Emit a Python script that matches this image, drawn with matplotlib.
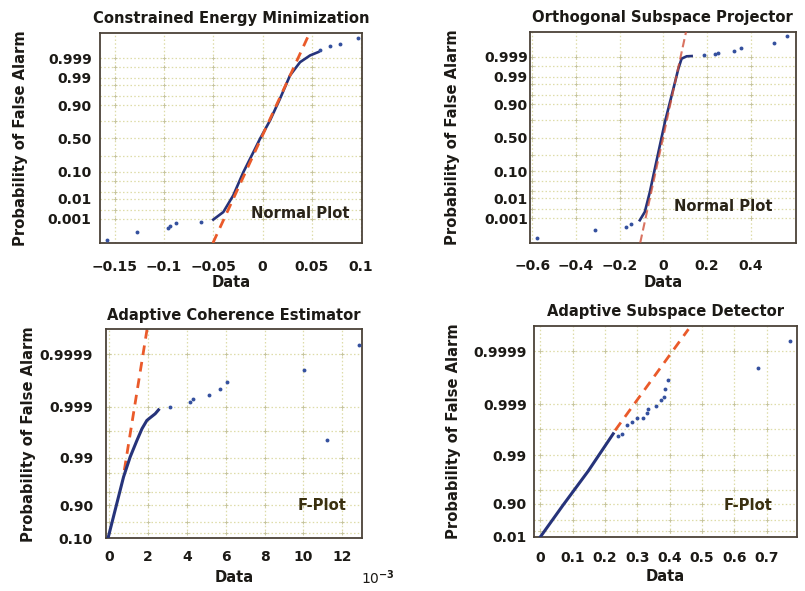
import numpy as np
import matplotlib
matplotlib.use("Agg")
import matplotlib.pyplot as plt

plt.rcParams["font.family"] = ["DejaVu Sans"]
plt.rcParams["font.weight"] = "bold"
plt.rcParams["axes.titleweight"] = "bold"
plt.rcParams["axes.labelweight"] = "bold"


# ---------------------------------------------------------------------------
# Data.  Normal plots use standard-normal quantiles on the y axis, F-plots use
# F(1, inf) quantiles; the tick labels show the matching probabilities.
# ---------------------------------------------------------------------------

# Constrained Energy Minimization
cem_curve_x = [-0.050, -0.0398, -0.0297, -0.0195, -0.0093, -0.0025, 0.0076,
               0.0178, 0.0279, 0.0381, 0.0483, 0.0567]
cem_curve_z = [-3.12, -2.83, -2.19, -1.30, -0.53, -0.01, 0.69, 1.53, 2.42,
               2.93, 3.19, 3.32]
cem_tail_x = [-0.1577, -0.1278, -0.0957, -0.0940, -0.0879, -0.0628,
              0.0584, 0.0686, 0.0788, 0.0974]
cem_tail_z = [-3.90, -3.58, -3.45, -3.38, -3.26, -3.22, 3.38, 3.55, 3.64, 3.86]
cem_fit_x = [-0.050, 0.0483]
cem_fit_z = [-3.99, 4.09]

# Orthogonal Subspace Projector
osp_curve_x = [-0.108, -0.085, -0.062, -0.039, -0.016, 0.007, 0.030, 0.053,
               0.068, 0.083, 0.106, 0.129]
osp_curve_z = [-3.16, -2.84, -2.08, -1.18, -0.29, 0.60, 1.36, 2.12, 2.63,
               3.02, 3.11, 3.12]
osp_tail_x = [-0.579, -0.314, -0.169, -0.146, 0.186, 0.236, 0.251, 0.323,
              0.354, 0.507, 0.565]
osp_tail_z = [-3.85, -3.54, -3.41, -3.32, 3.17, 3.21, 3.24, 3.33, 3.42,
              3.61, 3.87]
osp_fit_x = [-0.105, 0.103]
osp_fit_z = [-3.98, 4.03]

# Adaptive Coherence Estimator (data in units of 1e-3)
ace_curve_x = [-0.04, 0.22, 0.48, 0.74, 1.08, 1.43, 1.69, 1.94, 2.11, 2.37, 2.54]
ace_curve_q = [0.13, 1.77, 3.41, 5.05, 6.69, 8.06, 9.02, 9.70, 9.92, 10.25, 10.57]
ace_tail_x = [3.14, 4.18, 4.31, 5.12, 5.72, 6.07, 10.02, 11.22, 12.85]
ace_tail_q = [10.79, 11.20, 11.48, 11.83, 12.30, 12.84, 13.85, 8.06, 15.93]
ace_fit_x = [0.78, 1.95]
ace_fit_q = [5.6, 17.2]

# Adaptive Subspace Detector
asd_curve_x = [0.0, 0.071, 0.148, 0.225]
asd_curve_q = [0.0, 2.62, 5.37, 8.40]
asd_tail_x = [0.241, 0.251, 0.267, 0.282, 0.298, 0.318, 0.329, 0.334, 0.358,
              0.372, 0.382, 0.385, 0.396, 0.674, 0.772]
asd_tail_q = [8.26, 8.40, 9.09, 9.37, 9.70, 9.70, 10.06, 10.41, 10.69, 11.16,
              11.44, 12.07, 12.81, 13.78, 15.98]
asd_fit_x = [0.231, 0.458]
asd_fit_q = [8.68, 16.94]

# Probability ticks and grid levels
normal_tick_p = [0.001, 0.01, 0.10, 0.50, 0.90, 0.99, 0.999]
normal_tick_labels = ["0.001", "0.01", "0.10", "0.50", "0.90", "0.99", "0.999"]
normal_grid_p = [0.001, 0.003, 0.01, 0.02, 0.05, 0.10, 0.25, 0.50, 0.75, 0.90,
                 0.95, 0.98, 0.99, 0.997, 0.999]
ace_tick_p = [0.10, 0.90, 0.99, 0.999, 0.9999]
ace_tick_labels = ["0.10", "0.90", "0.99", "0.999", "0.9999"]
asd_tick_p = [0.01, 0.90, 0.99, 0.999, 0.9999]
asd_tick_labels = ["0.01", "0.90", "0.99", "0.999", "0.9999"]
f_grid_p = [0.50, 0.75, 0.90, 0.95, 0.98, 0.99, 0.997, 0.999, 0.9999]

cem_xticks = [-0.15, -0.1, -0.05, 0, 0.05, 0.1]
cem_xlabels = ["\u22120.15", "\u22120.1", "\u22120.05", "0", "0.05", "0.1"]
osp_xticks = [-0.6, -0.4, -0.2, 0, 0.2, 0.4]
osp_xlabels = ["\u22120.6", "\u22120.4", "\u22120.2", "0", "0.2", "0.4"]
ace_xticks = [0, 2, 4, 6, 8, 10, 12]
ace_xlabels = ["0", "2", "4", "6", "8", "10", "12"]
asd_xticks = [0, 0.1, 0.2, 0.3, 0.4, 0.5, 0.6, 0.7]
asd_xlabels = ["0", "0.1", "0.2", "0.3", "0.4", "0.5", "0.6", "0.7"]


def norm_ppf(p):
    """Inverse standard normal CDF (Acklam's rational approximation)."""
    p = np.asarray(p, dtype=float)
    a = [-3.969683028665376e+01, 2.209460984245205e+02, -2.759285104469687e+02,
         1.383577518672690e+02, -3.066479806614716e+01, 2.506628277459239e+00]
    b = [-5.447609879822406e+01, 1.615858368580409e+02, -1.556989798598866e+02,
         6.680131188771972e+01, -1.328068155288572e+01]
    c = [-7.784894002430293e-03, -3.223964580411365e-01, -2.400758277161838e+00,
         -2.549732539343734e+00, 4.374664141464968e+00, 2.938163982698783e+00]
    d = [7.784695709041462e-03, 3.224671290700398e-01, 2.445134137142996e+00,
         3.754408661907416e+00]
    plow, phigh = 0.02425, 1 - 0.02425
    out = np.empty_like(p)
    lo = p < plow
    hi = p > phigh
    mid = ~(lo | hi)
    q = np.sqrt(-2 * np.log(p[lo]))
    out[lo] = (((((c[0]*q + c[1])*q + c[2])*q + c[3])*q + c[4])*q + c[5]) / \
              ((((d[0]*q + d[1])*q + d[2])*q + d[3])*q + 1)
    q = np.sqrt(-2 * np.log(1 - p[hi]))
    out[hi] = -(((((c[0]*q + c[1])*q + c[2])*q + c[3])*q + c[4])*q + c[5]) / \
               ((((d[0]*q + d[1])*q + d[2])*q + d[3])*q + 1)
    q = p[mid] - 0.5
    r = q * q
    out[mid] = (((((a[0]*r + a[1])*r + a[2])*r + a[3])*r + a[4])*r + a[5])*q / \
               (((((b[0]*r + b[1])*r + b[2])*r + b[3])*r + b[4])*r + 1)
    return out


def f1_ppf(p):
    """Quantile of F(1, inf), i.e. chi-square with one degree of freedom."""
    return norm_ppf((1 + np.asarray(p, dtype=float)) / 2) ** 2


BLUE_LINE = "#26337a"
BLUE_DOT = "#34509e"
RED = "#ea5a2a"
GRID = "#dedca8"
CROSS = "#c4c29c"
FRAME = "#4b4238"
TEXT = "#1c1a16"
FS = 10.6

fig = plt.figure(figsize=(8.05, 5.91), dpi=100)
fig.patch.set_facecolor("white")

ax1 = fig.add_axes([0.1242, 0.5888, 0.3255, 0.3553])
ax2 = fig.add_axes([0.6584, 0.5893, 0.3301, 0.3570])
ax3 = fig.add_axes([0.1320, 0.0892, 0.3173, 0.3536])
ax4 = fig.add_axes([0.6634, 0.0919, 0.3263, 0.3565])


def style(ax, title, xticks, xlabels, ytick_pos, ytick_labels, ygrid_pos,
          xlim, ylim, xpad, ypad):
    ax.set_xlim(xlim)
    ax.set_ylim(ylim)
    ax.set_xticks(xticks)
    ax.set_xticklabels(xlabels)
    ax.set_yticks(ytick_pos)
    ax.set_yticklabels(ytick_labels)
    ax.set_yticks(ygrid_pos, minor=True)
    ax.tick_params(which="both", length=0, labelsize=10, labelcolor=TEXT)
    ax.tick_params(axis="x", pad=xpad)
    ax.tick_params(axis="y", pad=ypad)
    ax.grid(which="both", color=GRID, linestyle=(0, (1.2, 1.8)), linewidth=0.9)
    ax.set_axisbelow(True)
    # small crosses where the dotted grid lines meet
    gx, gy = np.meshgrid(xticks, ygrid_pos)
    ax.plot(gx.ravel(), gy.ravel(), "+", color=CROSS, ms=3.0, mew=0.6,
            zorder=1, clip_on=True)
    for sp in ax.spines.values():
        sp.set_color(FRAME)
        sp.set_linewidth(1.3)
    ax.set_title(title, fontsize=FS, color=TEXT, pad=7)
    ax.set_xlabel("Data", fontsize=FS, color=TEXT, va="center")
    ax.xaxis.set_label_coords(0.5, -0.19)
    ax.set_ylabel("Probability of False Alarm", fontsize=FS, color=TEXT,
                  va="center")
    ax.yaxis.set_label_coords(-0.305, 0.5)


# --- Constrained Energy Minimization -------------------------------------
ax1.plot(cem_curve_x, cem_curve_z, color=BLUE_LINE, lw=1.9, zorder=3)
ax1.plot(cem_tail_x, cem_tail_z, "o", color=BLUE_DOT, ms=2.8, mew=0, zorder=3)
ax1.axline((cem_fit_x[0], cem_fit_z[0]), (cem_fit_x[1], cem_fit_z[1]),
           color=RED, lw=2.0, ls=(0, (3.5, 2.5)), zorder=4)
style(ax1, "Constrained Energy Minimization", cem_xticks, cem_xlabels,
      norm_ppf(normal_tick_p), normal_tick_labels, norm_ppf(normal_grid_p),
      (-0.165, 0.101), (-4.02, 4.05), 12, 6)
ax1.text(0.763, 0.141, "Normal Plot", transform=ax1.transAxes, ha="center",
         va="center", fontsize=FS, color="#2a2418")

# --- Orthogonal Subspace Projector ----------------------------------------
ax2.plot(osp_curve_x, osp_curve_z, color=BLUE_LINE, lw=1.9, zorder=3)
ax2.plot(osp_tail_x, osp_tail_z, "o", color=BLUE_DOT, ms=2.8, mew=0, zorder=3)
ax2.axline((osp_fit_x[0], osp_fit_z[0]), (osp_fit_x[1], osp_fit_z[1]),
           color="#d0503a", lw=1.5, ls=(0, (4, 2)), alpha=0.8, zorder=4)
style(ax2, "Orthogonal Subspace Projector", osp_xticks, osp_xlabels,
      norm_ppf(normal_tick_p), normal_tick_labels, norm_ppf(normal_grid_p),
      (-0.61, 0.605), (-4.02, 4.05), 12, 1.5)
ax2.yaxis.set_label_coords(-0.29, 0.5)
ax2.text(0.727, 0.171, "Normal Plot", transform=ax2.transAxes, ha="center",
         va="center", fontsize=FS, color="#2a2418")

# --- Adaptive Coherence Estimator -----------------------------------------
ax3.plot(ace_fit_x, ace_fit_q, color=RED, lw=2.0, ls=(0, (3.5, 2.5)),
         zorder=2.5)
ax3.plot(ace_curve_x, ace_curve_q, color=BLUE_LINE, lw=2.2, zorder=3)
ax3.plot(ace_tail_x, ace_tail_q, "o", color=BLUE_DOT, ms=2.8, mew=0, zorder=3)
style(ax3, "Adaptive Coherence Estimator", ace_xticks, ace_xlabels,
      f1_ppf(ace_tick_p), ace_tick_labels, f1_ppf(f_grid_p),
      (-0.15, 13.0), (0, 17.2), 8.5, 9.5)
ax3.text(0.844, 0.159, "F-Plot", transform=ax3.transAxes, ha="center",
         va="center", fontsize=FS, color="#3a3010")
fig.text(0.4696, 0.022, "10$^{-3}$", ha="center", va="center", fontsize=10,
         fontweight="normal", color=TEXT)

# --- Adaptive Subspace Detector --------------------------------------------
ax4.plot(asd_fit_x, asd_fit_q, color=RED, lw=2.0, ls=(0, (3.5, 2.5)),
         zorder=2.5)
ax4.plot(asd_curve_x, asd_curve_q, color=BLUE_LINE, lw=2.2, zorder=3)
ax4.plot(asd_tail_x, asd_tail_q, "o", color=BLUE_DOT, ms=2.8, mew=0, zorder=3)
style(ax4, "Adaptive Subspace Detector", asd_xticks, asd_xlabels,
      f1_ppf(asd_tick_p), asd_tick_labels, f1_ppf(f_grid_p),
      (-0.02, 0.793), (0, 17.2), 10, 5.3)
ax4.text(0.816, 0.150, "F-Plot", transform=ax4.transAxes, ha="center",
         va="center", fontsize=FS, color="#3a3010")

fig.savefig("out.png", dpi=100)
